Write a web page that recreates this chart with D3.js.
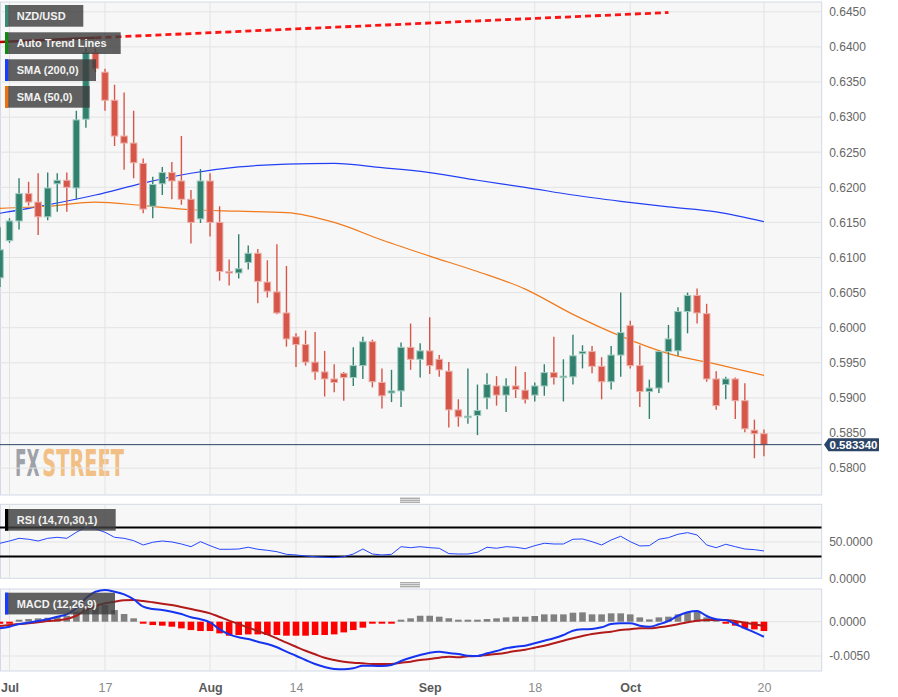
<!DOCTYPE html>
<html>
<head>
<meta charset="utf-8">
<script src="https://cdn.jsdelivr.net/npm/d3@7"></script>
<style>
  body { margin: 0; background: #fff; }
  svg { display: block; font-family: 'Liberation Sans', Arial, sans-serif; }
</style>
</head>
<body>
<svg id="chart" width="898" height="697"></svg>
<script>
// trading days Jun 30 .. Oct 20 2023 (weekdays)
const dates = d3.timeDays(new Date(2023, 5, 30), new Date(2023, 9, 21))
    .filter(d => d.getDay() !== 0 && d.getDay() !== 6);

const open = [0.6071, 0.6124, 0.6152, 0.6191, 0.6179, 0.6158, 0.6205, 0.6210, 0.6199, 0.6297, 0.6392,
    0.6364, 0.6324, 0.6273, 0.6263, 0.6234, 0.6173, 0.6205, 0.6221, 0.6209, 0.6183,
    0.6155, 0.6209, 0.6150, 0.6080, 0.6078, 0.6093, 0.6106, 0.6065, 0.6051, 0.6021,
    0.5987, 0.5976, 0.5951, 0.5937, 0.5927, 0.5935, 0.5929, 0.5946, 0.5980, 0.5922,
    0.5907, 0.5910, 0.5972, 0.5955, 0.5967, 0.5955, 0.5938, 0.5883, 0.5872, 0.5875,
    0.5900, 0.5917, 0.5904, 0.5917, 0.5911, 0.5904, 0.5917, 0.5936, 0.5929, 0.5930,
    0.5963, 0.5966, 0.5945, 0.5923, 0.5961, 0.6003, 0.5946, 0.5909, 0.5914, 0.5966,
    0.5967, 0.6023, 0.6046, 0.6020, 0.5927, 0.5919, 0.5927, 0.5896, 0.5854, 0.5849];
const high = [0.6143, 0.6156, 0.6213, 0.6208, 0.6220, 0.6221, 0.6220, 0.6221, 0.6309, 0.6398, 0.6398,
    0.6369, 0.6346, 0.6335, 0.6309, 0.6241, 0.6215, 0.6229, 0.6236, 0.6273, 0.6196,
    0.6226, 0.6220, 0.6173, 0.6097, 0.6133, 0.6117, 0.6112, 0.6096, 0.6119, 0.6088,
    0.5992, 0.5996, 0.5994, 0.5967, 0.5948, 0.5937, 0.5972, 0.5987, 0.5983, 0.5942,
    0.5940, 0.5979, 0.6006, 0.5978, 0.6015, 0.5961, 0.5951, 0.5898, 0.5942, 0.5919,
    0.5935, 0.5931, 0.5928, 0.5945, 0.5937, 0.5922, 0.5948, 0.5987, 0.5955, 0.5990,
    0.5975, 0.5974, 0.5958, 0.5974, 0.6050, 0.6010, 0.5975, 0.5926, 0.5967, 0.6004,
    0.6029, 0.6050, 0.6056, 0.6034, 0.5938, 0.5930, 0.5929, 0.5921, 0.5869, 0.5855];
const low = [0.6058, 0.6121, 0.6140, 0.6174, 0.6132, 0.6153, 0.6165, 0.6165, 0.6183, 0.6285, 0.6364,
    0.6309, 0.6259, 0.6225, 0.6213, 0.6163, 0.6156, 0.6189, 0.6183, 0.6175, 0.6120,
    0.6149, 0.6130, 0.6067, 0.6060, 0.6070, 0.6083, 0.6035, 0.6043, 0.6019, 0.5973,
    0.5944, 0.5946, 0.5926, 0.5902, 0.5908, 0.5896, 0.5917, 0.5927, 0.5915, 0.5885,
    0.5894, 0.5887, 0.5940, 0.5929, 0.5934, 0.5930, 0.5858, 0.5859, 0.5863, 0.5847,
    0.5884, 0.5889, 0.5880, 0.5900, 0.5892, 0.5895, 0.5903, 0.5919, 0.5895, 0.5919,
    0.5942, 0.5935, 0.5898, 0.5912, 0.5930, 0.5942, 0.5887, 0.5870, 0.5907, 0.5922,
    0.5960, 0.5992, 0.6006, 0.5923, 0.5883, 0.5898, 0.5870, 0.5851, 0.5814, 0.5817];
const close = [0.6111, 0.6152, 0.6191, 0.6179, 0.6158, 0.6199, 0.6210, 0.6200, 0.6296, 0.6392, 0.6369,
    0.6324, 0.6273, 0.6263, 0.6235, 0.6169, 0.6204, 0.6221, 0.6209, 0.6183, 0.6150,
    0.6209, 0.6150, 0.6080, 0.6078, 0.6084, 0.6106, 0.6066, 0.6052, 0.6021, 0.5984,
    0.5976, 0.5951, 0.5937, 0.5927, 0.5922, 0.5929, 0.5946, 0.5980, 0.5923, 0.5903,
    0.5910, 0.5972, 0.5955, 0.5967, 0.5946, 0.5940, 0.5883, 0.5873, 0.5874, 0.5882,
    0.5919, 0.5904, 0.5917, 0.5912, 0.5898, 0.5917, 0.5936, 0.5929, 0.5931, 0.5960,
    0.5966, 0.5945, 0.5923, 0.5961, 0.5993, 0.5946, 0.5909, 0.5914, 0.5966, 0.5984,
    0.6023, 0.6046, 0.6021, 0.5927, 0.5889, 0.5927, 0.5896, 0.5856, 0.5849, 0.58334];

// moving averages, read every 5th session
const smaDay = [0, 5, 10, 15, 20, 25, 30, 35, 40, 45, 50, 55, 60, 65, 70, 75, 80];
const sma200 = [0.6163, 0.6175, 0.6189, 0.6206, 0.6220, 0.6229, 0.6233, 0.6234, 0.6228,
    0.6221, 0.6210, 0.6200, 0.6189, 0.6180, 0.6172, 0.6165, 0.6151];
const sma50 = [0.6170, 0.6173, 0.6179, 0.6174, 0.6168, 0.6166, 0.6164, 0.6150, 0.6125,
    0.6102, 0.6080, 0.6055, 0.6019, 0.5988, 0.5963, 0.5948, 0.5932];

// auto trend line: solid part then dotted projection
const trendDay = [0, 10, 70];
const trendPrice = [0.6407, 0.6413, 0.6449];

const rsi = [48.2, 51.3, 55, 53.7, 51.3, 55, 56.4, 55, 63.3, 70.2, 67.9,
    63.3, 56.4, 55, 51.8, 45.8, 49.6, 51.3, 50, 47.2, 43.5,
    50.4, 44.9, 39.9, 39.9, 40.3, 42.7, 39.9, 38.5, 36.6, 33,
    32.1, 30.7, 29.7, 28.9, 28.4, 29.7, 33.4, 40.3, 33.4, 32.1,
    33, 43.5, 42.1, 43.5, 42.1, 41.3, 34, 33.4, 33.4, 35.8,
    42.7, 41.3, 43.5, 42.7, 40.7, 44.9, 48.2, 47.2, 47.2, 53.7,
    54.1, 50.4, 45.8, 52.7, 57.8, 50.4, 44.5, 44.9, 53.7, 55.9,
    60.6, 62.8, 59.6, 45.8, 42.1, 46.8, 43.5, 40.3, 39.4, 37.6];

const macd = [-0.00096, -0.00073, -0.00034, -0.00015, 0.0001, 0.00035, 0.00073, 0.00108, 0.00195, 0.00341, 0.00437,
    0.00462, 0.00437, 0.00399, 0.00327, 0.00219, 0.00185, 0.00171, 0.00146, 0.00112, 0.00064,
    0.00035, -0.00009, -0.00111, -0.00184, -0.00227, -0.00252, -0.00292, -0.00325, -0.00373, -0.00437,
    -0.00496, -0.00558, -0.00617, -0.0066, -0.0069, -0.00694, -0.00679, -0.00642, -0.00642, -0.00646,
    -0.00631, -0.00573, -0.00525, -0.00486, -0.00452, -0.00437, -0.00456, -0.00471, -0.00496, -0.005,
    -0.00461, -0.00427, -0.00388, -0.00365, -0.0035, -0.00315, -0.00277, -0.00242, -0.00194, -0.00131,
    -0.00111, -0.00106, -0.00082, -0.00034, -0.00023, -0.00023, -0.00058, -0.00073, -0.00038, 0.0001,
    0.00087, 0.00137, 0.00156, 0.00083, 0.00035, 0.00025, -0.00034, -0.00096, -0.00155, -0.00219];
const signal = [-0.00063, -0.00048, -0.00034, -0.00023, -0.00009, 0.0001, 0.0002, 0.00039, 0.00087, 0.00171, 0.00229,
    0.00268, 0.00292, 0.00312, 0.00316, 0.00302, 0.00283, 0.00262, 0.00243, 0.00214, 0.00185,
    0.00156, 0.00122, 0.00069, 0.00015, -0.00034, -0.00087, -0.00136, -0.00184, -0.00242, -0.00306,
    -0.00365, -0.00423, -0.00475, -0.00525, -0.00558, -0.00583, -0.00598, -0.00607, -0.00617, -0.00617,
    -0.00617, -0.00598, -0.00583, -0.00558, -0.00544, -0.00525, -0.0051, -0.00519, -0.00504, -0.005,
    -0.00486, -0.00471, -0.00452, -0.00427, -0.00408, -0.00379, -0.0035, -0.00315, -0.00277, -0.00242,
    -0.00209, -0.00179, -0.0016, -0.00146, -0.00121, -0.00111, -0.00096, -0.00096, -0.00082, -0.00063,
    -0.00038, -0.00009, 0.00015, 0.00025, 0.00025, 0.00025, 0.0001, -0.00015, -0.00038, -0.00063];
const hist = [-0.0003, -0.0003, 0.00024, 0.00039, 0.00049, 0.00058, 0.00073, 0.00087, 0.00146, 0.00194, 0.00243,
    0.00243, 0.0017, 0.00112, 0.00049, -0.00024, -0.00049, -0.00058, -0.00073, -0.00097, -0.00122,
    -0.00136, -0.00136, -0.0017, -0.00204, -0.00194, -0.00185, -0.00185, -0.00194, -0.00194, -0.00204,
    -0.00204, -0.00204, -0.00194, -0.00194, -0.00185, -0.00156, -0.00122, -0.00087, -0.00024, -0.00015,
    -0.0001, 0.00029, 0.00049, 0.00087, 0.00087, 0.00073, 0.0005, 0.00024, 0.00015, 0.00015,
    0.00039, 0.00049, 0.00063, 0.00073, 0.00073, 0.00083, 0.00107, 0.00107, 0.00107, 0.00131,
    0.00136, 0.00107, 0.00107, 0.00122, 0.00122, 0.00107, 0.00063, 0.00034, 0.00063, 0.00073,
    0.00107, 0.00136, 0.00146, 0.00063, 0.00034, -0.00024, -0.00058, -0.00097, -0.00112, -0.00136];

const lastPrice = 0.58334;
const priceTicks = [0.5800, 0.5850, 0.5900, 0.5950, 0.6000, 0.6050, 0.6100, 0.6150,
    0.6200, 0.6250, 0.6300, 0.6350, 0.6400, 0.6450];
const rsiTicks = [0, 50];
const macdTicks = [0, -0.005];
const tickDates = ['2023-07-03', '2023-07-17', '2023-08-01', '2023-08-14',
    '2023-09-01', '2023-09-18', '2023-10-02', '2023-10-20'];
const tickLabels = ['Jul', '17', 'Aug', '14', 'Sep', '18', 'Oct', '20'];

const svg = d3.select('#chart');
const right = 821.7;
const main = { top: 2, bottom: 495 };
const rsiP = { top: 504.3, bottom: 578.3 };
const macdP = { top: 589, bottom: 671 };

const x = d3.scaleLinear().domain([0, 86]).range([-0.05, 821.25]);
const y = d3.scaleLinear().domain([0.58, 0.645]).range([468.1, 11.8]);
const yR = d3.scaleLinear().domain([0, 100]).range([578.3, 505.6]);
const yM = d3.scaleLinear().domain([-0.005, 0]).range([656, 621.7]);

const fmtDay = d3.timeFormat('%Y-%m-%d');
const tickIdx = tickDates.map(t => dates.findIndex(d => fmtDay(d) === t));

// panels
const defs = svg.append('defs');
[['clipMain', main], ['clipRsi', rsiP], ['clipMacd', macdP]].forEach(([id, p]) => {
    defs.append('clipPath').attr('id', id).append('rect')
        .attr('x', 0).attr('y', p.top).attr('width', right).attr('height', p.bottom - p.top);
});
[main, rsiP, macdP].forEach(p => {
    svg.append('rect')
        .attr('x', 0.5).attr('y', p.top)
        .attr('width', right - 0.5).attr('height', p.bottom - p.top)
        .attr('fill', '#f7f7f7')
        .attr('stroke', '#d3d9e6');
});

// drag handles between panels
[497.7, 582.3].forEach(h => {
    [0, 2, 4].forEach(o => {
        svg.append('line')
            .attr('x1', 400).attr('x2', 420)
            .attr('y1', h + o + 0.5).attr('y2', h + o + 0.5)
            .attr('stroke', '#8a8a8a').attr('stroke-width', 1);
    });
});

// ---- main price panel ----
const gMain = svg.append('g').attr('clip-path', 'url(#clipMain)');

// watermark, squeezed horizontally to its logo width
const wmFont = "'Liberation Sans Narrow', 'DejaVu Sans Condensed', sans-serif";
[['FX', 15, 24.5, '#9ea1a8'], ['STREET', 42.3, 81.7, '#f2bf84']].forEach(([t, wx, wl, col]) => {
    const txt = gMain.append('text')
        .attr('x', 0).attr('y', 0)
        .attr('font-family', wmFont)
        .attr('font-weight', 'bold').attr('font-size', 37)
        .attr('fill', col)
        .text(t);
    const natural = txt.node().getComputedTextLength();
    txt.attr('transform', `translate(${wx},476) scale(${wl / natural},1)`);
});

gMain.selectAll('.hgrid').data(priceTicks).join('line')
    .attr('x1', 0).attr('x2', right)
    .attr('y1', d => y(d)).attr('y2', d => y(d))
    .attr('stroke', '#e3e3e3');

function vgrid(g, p) {
    g.selectAll('.vgrid').data(tickIdx).join('line')
        .attr('x1', d => x(d)).attr('x2', d => x(d))
        .attr('y1', p.top).attr('y2', p.bottom)
        .attr('stroke', '#e3e3e3');
}
vgrid(gMain, main);

const smaLine = vals => d3.line()
    .x((d, i) => x(smaDay[i]))
    .y(d => y(d))
    .curve(d3.curveMonotoneX)(vals);

gMain.append('path').attr('d', smaLine(sma200))
    .attr('fill', 'none').attr('stroke', '#2340f5').attr('stroke-width', 1.2);
gMain.append('path').attr('d', smaLine(sma50))
    .attr('fill', 'none').attr('stroke', '#f07a1c').attr('stroke-width', 1.2);

// candles
const candles = d3.range(dates.length).map(k => ({
    k, o: open[k], h: high[k], l: low[k], c: close[k]
}));
const bw = 6.6;
const cg = gMain.selectAll('.candle').data(candles).join('g');
cg.append('line')
    .attr('x1', d => x(d.k)).attr('x2', d => x(d.k))
    .attr('y1', d => y(d.h)).attr('y2', d => y(d.l))
    .attr('stroke', d => d.c >= d.o ? '#32806e' : '#d65749')
    .attr('stroke-width', 1.4);
cg.append('rect')
    .attr('x', d => x(d.k) - bw / 2)
    .attr('width', bw)
    .attr('y', d => y(Math.max(d.o, d.c)))
    .attr('height', d => Math.max(1.5, Math.abs(y(d.o) - y(d.c))))
    .attr('fill', d => d.c >= d.o ? '#32806e' : '#d65749')
    .attr('stroke', d => d.c >= d.o ? '#a3cdc2' : '#ecb0a9')
    .attr('stroke-width', 1);

// trend line
gMain.append('line')
    .attr('x1', x(trendDay[0])).attr('y1', y(trendPrice[0]))
    .attr('x2', x(trendDay[1])).attr('y2', y(trendPrice[1]))
    .attr('stroke', '#b50000').attr('stroke-width', 2.6);
gMain.append('line')
    .attr('x1', x(trendDay[1])).attr('y1', y(trendPrice[1]))
    .attr('x2', x(trendDay[2])).attr('y2', y(trendPrice[2]))
    .attr('stroke', '#ff1414').attr('stroke-width', 2.8)
    .attr('stroke-dasharray', '6,4');

// last price line
gMain.append('line')
    .attr('x1', 0).attr('x2', right)
    .attr('y1', y(lastPrice)).attr('y2', y(lastPrice))
    .attr('stroke', '#2c4566').attr('stroke-width', 1);

// ---- RSI panel ----
const gRsi = svg.append('g').attr('clip-path', 'url(#clipRsi)');
gRsi.append('line').attr('x1', 0).attr('x2', right)
    .attr('y1', yR(50)).attr('y2', yR(50)).attr('stroke', '#e3e3e3');
vgrid(gRsi, rsiP);
[70, 30].forEach(v => {
    gRsi.append('line').attr('x1', 0).attr('x2', right)
        .attr('y1', yR(v)).attr('y2', yR(v))
        .attr('stroke', '#000').attr('stroke-width', 2);
});
gRsi.append('path')
    .attr('d', d3.line().x((d, k) => x(k)).y(d => yR(d))(rsi))
    .attr('fill', 'none').attr('stroke', '#2446ff').attr('stroke-width', 1);

// ---- MACD panel ----
const gMacd = svg.append('g').attr('clip-path', 'url(#clipMacd)');
macdTicks.forEach(v => {
    gMacd.append('line').attr('x1', 0).attr('x2', right)
        .attr('y1', yM(v)).attr('y2', yM(v)).attr('stroke', '#e3e3e3');
});
vgrid(gMacd, macdP);
gMacd.selectAll('.bar').data(hist).join('rect')
    .attr('x', (d, k) => x(k) - 3.3)
    .attr('width', 6.6)
    .attr('y', d => d >= 0 ? Math.min(yM(d), yM(0) - 2) : yM(0))
    .attr('height', d => Math.max(2, Math.abs(yM(d) - yM(0))))
    .attr('fill', d => d >= 0 ? '#808080' : '#ff0000');
gMacd.append('path')
    .attr('d', d3.line().x((d, k) => x(k)).y(d => yM(d)).curve(d3.curveMonotoneX)(signal))
    .attr('fill', 'none').attr('stroke', '#b31b1b').attr('stroke-width', 2);
gMacd.append('path')
    .attr('d', d3.line().x((d, k) => x(k)).y(d => yM(d)).curve(d3.curveMonotoneX)(macd))
    .attr('fill', 'none').attr('stroke', '#1634f0').attr('stroke-width', 2);

// ---- right axes ----
function rightAxis(scale, values, fmt) {
    const g = svg.append('g').attr('transform', `translate(${right},0)`)
        .call(d3.axisRight(scale).tickValues(values).tickFormat(fmt).tickSize(0).tickPadding(7.5));
    g.select('.domain').remove();
    g.selectAll('text').attr('fill', '#666').attr('font-size', 12)
        .attr('font-family', "'Liberation Sans', Arial, sans-serif");
}
rightAxis(y, priceTicks, d3.format('.4f'));
rightAxis(yR, rsiTicks, d3.format('.4f'));
rightAxis(yM, macdTicks, d => d3.format('.4f')(d).replace('−', '-'));

// last price tag
const ty = y(lastPrice);
svg.append('path')
    .attr('d', `M824,${ty} L828.5,${ty - 6.5} L879,${ty - 6.5} L879,${ty + 6.5} L828.5,${ty + 6.5} Z`)
    .attr('fill', '#2c4566');
svg.append('text')
    .attr('x', 853.5).attr('y', ty + 4)
    .attr('text-anchor', 'middle')
    .attr('fill', '#fff').attr('font-weight', 'bold').attr('font-size', 11.5)
    .text(d3.format('.6f')(lastPrice));

// ---- x axis ----
const xa = svg.append('g').attr('transform', 'translate(0,676)')
    .call(d3.axisBottom(x).tickValues(tickIdx)
        .tickFormat((d, i) => tickLabels[i]).tickSize(0).tickPadding(7));
xa.select('.domain').remove();
xa.selectAll('text')
    .attr('font-size', 12.5)
    .attr('font-family', "'Liberation Sans', Arial, sans-serif")
    .attr('font-weight', (d, i) => isNaN(+tickLabels[i]) ? 'bold' : 'normal')
    .attr('fill', (d, i) => isNaN(+tickLabels[i]) ? '#5a5a5a' : '#8a8a8a');

// ---- legend boxes ----
const legends = [
    { y: 5, w: 78.3, label: 'NZD/USD', color: '#3a8a78' },
    { y: 32.3, w: 115.7, label: 'Auto Trend Lines', color: '#0b8a12' },
    { y: 59.3, w: 91, label: 'SMA (200,0)', color: '#1a3cff' },
    { y: 86, w: 84.7, label: 'SMA (50,0)', color: '#f07010' },
    { y: 509, w: 110.7, label: 'RSI (14,70,30,1)', color: '#000' },
    { y: 592.7, w: 110, label: 'MACD (12,26,9)', color: '#1a3cff' }
];
const lg = svg.selectAll('.legend').data(legends).join('g')
    .attr('transform', d => `translate(5,${d.y})`);
lg.append('rect').attr('width', d => d.w).attr('height', 21.7)
    .attr('fill', 'rgba(62,62,62,0.82)');
lg.append('rect').attr('width', 3.2).attr('height', 21.7)
    .attr('fill', d => d.color);
lg.append('text').attr('x', 11.7).attr('y', 15)
    .attr('fill', '#f2f2f2').attr('font-size', 11).attr('font-weight', 'bold')
    .text(d => d.label);
</script>
</body>
</html>
